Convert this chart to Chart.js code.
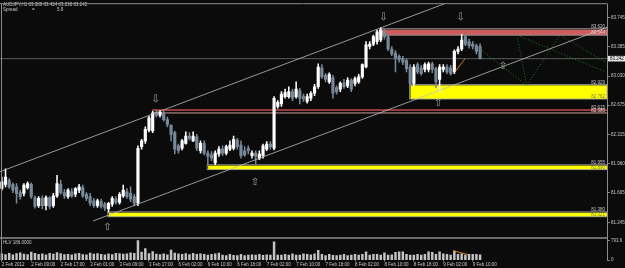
<!DOCTYPE html>
<html>
<head>
<meta charset="utf-8">
<script src="https://cdn.jsdelivr.net/npm/chart.js@4/dist/chart.umd.min.js"></script>
<style>
  html, body { margin: 0; padding: 0; background: #0b0b0b; }
  canvas { display: block; }
</style>
</head>
<body>
<canvas id="mtChart" width="625" height="268" style="width:625px;height:268px"></canvas>
<script>
// AUDJPY H1 candles (bar 0 = 2 Feb 2012)
const opens = [81.66,81.71,81.76,81.71,81.68,81.61,81.60,81.67,81.71,81.55,
  81.45,81.54,81.45,81.55,81.45,81.57,81.71,81.61,81.56,81.62,
  81.59,81.64,81.67,81.59,81.56,81.51,81.45,81.50,81.47,81.41,
  81.47,81.53,81.49,81.57,81.62,81.60,81.56,81.48,82.17,82.24,
  82.37,82.36,82.58,82.55,82.58,82.50,82.43,82.34,82.18,82.15,
  82.21,82.30,82.24,82.29,82.12,82.21,82.09,82.07,81.97,82.08,
  82.14,82.09,82.14,82.15,82.25,82.19,82.12,82.15,82.06,82.09,
  82.03,82.06,82.14,82.20,82.15,82.66,82.69,82.78,82.78,82.84,
  82.78,82.85,82.78,82.72,82.76,82.82,82.90,83.13,83.04,82.96,
  83.01,82.89,82.87,82.95,82.91,82.98,82.94,82.96,83.02,83.14,
  83.39,83.42,83.45,83.47,83.56,83.51,83.36,83.31,83.27,83.24,
  83.22,83.14,82.94,83.17,83.13,83.11,83.11,83.18,83.12,82.99,
  83.11,83.14,83.13,83.08,83.33,83.36,83.51,83.45,83.42,83.40,
  83.389];
const highs = [81.80,81.90,81.78,81.73,81.72,81.64,81.72,81.74,81.73,81.57,
  81.56,81.57,81.57,81.56,81.60,81.82,81.76,81.65,81.66,81.66,
  81.67,81.71,81.70,81.61,81.60,81.54,81.53,81.53,81.49,81.49,
  81.56,81.56,81.61,81.70,81.66,81.68,81.59,82.18,82.26,82.41,
  82.54,82.60,82.61,82.61,82.60,82.53,82.44,82.36,82.20,82.26,
  82.35,82.34,82.35,82.32,82.24,82.24,82.12,82.11,82.12,82.17,
  82.18,82.19,82.24,82.30,82.27,82.24,82.17,82.18,82.12,82.12,
  82.12,82.20,82.23,82.23,82.78,82.73,82.84,82.87,82.90,82.87,
  82.96,82.88,82.81,82.81,82.84,82.93,83.18,83.17,83.06,83.07,
  83.04,82.91,82.96,82.99,83.01,83.00,83.02,83.05,83.18,83.45,
  83.45,83.53,83.59,83.62,83.60,83.53,83.39,83.34,83.29,83.27,
  83.24,83.17,83.17,83.19,83.16,83.19,83.20,83.20,83.14,83.17,
  83.17,83.17,83.16,83.35,83.39,83.54,83.54,83.48,83.45,83.42,
  83.424];
const lows = [81.64,81.68,81.66,81.61,81.48,81.53,81.57,81.65,81.54,81.42,
  81.43,81.41,81.40,81.41,81.43,81.55,81.59,81.54,81.54,81.55,
  81.56,81.61,81.55,81.51,81.45,81.43,81.43,81.42,81.39,81.37,
  81.44,81.47,81.47,81.55,81.54,81.50,81.45,81.45,82.14,82.21,
  82.35,82.34,82.53,82.53,82.48,82.41,82.24,82.08,82.09,82.13,
  82.20,82.25,82.23,82.12,82.09,82.07,81.95,82.00,81.95,82.05,
  82.06,82.07,82.12,82.13,82.14,82.03,82.05,82.08,82.03,81.96,
  82.01,82.03,82.12,82.14,82.13,82.64,82.66,82.76,82.76,82.73,
  82.76,82.69,82.72,82.70,82.73,82.79,82.88,83.00,82.96,82.94,
  82.76,82.81,82.84,82.88,82.89,82.84,82.91,82.94,83.00,83.13,
  83.36,83.40,83.42,83.45,83.48,83.34,83.28,83.08,83.20,83.17,
  83.08,82.91,82.91,83.06,83.04,83.08,83.08,83.07,82.89,82.84,
  83.08,83.06,83.04,83.06,83.30,83.34,83.40,83.37,83.36,83.30,
  83.238];
const closes = [81.74,81.80,81.68,81.64,81.60,81.56,81.70,81.72,81.56,81.44,
  81.54,81.45,81.55,81.44,81.57,81.72,81.61,81.57,81.64,81.57,
  81.66,81.68,81.57,81.54,81.48,81.45,81.51,81.44,81.42,81.48,
  81.54,81.49,81.59,81.64,81.56,81.53,81.48,82.15,82.24,82.38,
  82.52,82.58,82.55,82.59,82.50,82.44,82.32,82.14,82.12,82.24,
  82.30,82.27,82.30,82.15,82.21,82.09,82.05,82.03,82.09,82.14,
  82.09,82.17,82.19,82.26,82.17,82.06,82.07,82.12,82.09,82.05,
  82.08,82.18,82.20,82.17,82.76,82.71,82.81,82.83,82.84,82.76,
  82.87,82.76,82.75,82.78,82.82,82.90,83.14,83.02,82.99,83.05,
  82.82,82.84,82.94,82.90,82.98,82.87,83.00,83.02,83.17,83.41,
  83.42,83.51,83.57,83.59,83.51,83.36,83.30,83.25,83.23,83.20,
  83.12,82.94,83.14,83.08,83.06,83.17,83.18,83.11,82.96,83.14,
  83.14,83.08,83.06,83.33,83.36,83.47,83.42,83.40,83.39,83.33,
  83.242];
const volumes = [249,223,275,215,258,292,241,223,317,275,
  232,249,215,266,241,300,258,223,232,215,
  249,266,223,206,283,241,258,232,215,249,
  223,275,258,241,249,292,266,793.6,317,463,
  258,343,241,223,249,215,403,283,249,232,
  258,223,275,229,255,229,201,229,255,282,
  201,175,229,188,175,229,175,201,215,201,
  229,188,215,201,738,201,201,229,201,255,
  201,201,255,229,215,255,390,229,175,229,
  188,175,201,229,175,201,229,201,229,336,
  201,229,229,201,296,201,215,309,336,336,
  229,201,201,229,201,229,335,309,229,336,
  255,229,201,363,229,255,201,229,229,229,
  215];

// time axis labels (every 8 bars)
const tickIdx = [0,8,16,24,32,40,48,56,64,72,80,88,96,104,112,120,128];
const tickText = ['2 Feb 2012','2 Feb 09:00','2 Feb 17:00','3 Feb 01:00','3 Feb 09:00','3 Feb 17:00',
  '6 Feb 02:00','6 Feb 10:00','6 Feb 18:00','7 Feb 02:00','7 Feb 10:00','7 Feb 18:00',
  '8 Feb 02:00','8 Feb 10:00','8 Feb 18:00','9 Feb 02:00','9 Feb 10:00'];
const priceTicks = [83.745,83.565,83.385,83.205,83.030,82.850,82.675,82.495,82.315,82.140,
  81.960,81.780,81.605,81.425,81.245,81.070];
const volTicks = [0, 793.6];

// supply / demand zones
const zoneStart = [102.7, 110.8, 40.8, 55.8, 28.8];
const zoneTop = [83.607, 82.927, 82.622, 81.949, 81.375];
const zoneBottom = [83.528, 82.750, 82.580, 81.889, 81.315];
const zoneFill = ['#cd5c5c', '#ffff00', null, '#ffff00', '#ffff00'];
const zoneHighText = ['83.620', '82.929', '82.615', '81.955', '81.380'];
const zoneLowText = ['83.544', '82.762', '82.585', '81.890', '81.321'];

// fractal arrows
const downIdx = [41.8, 103.7, 124.7];
const downPrice = [82.75, 83.74, 83.74];
const upIdx = [28.7, 68.8, 118.6, 136.2];
const upPrice = [81.19, 81.735, 82.70, 83.145];

// trend channel and projections [bar, price]
const upperChannel = [[-0.5, 81.864], [122, 83.94]];
const lowerChannel = [[24.8, 81.264], [164.5, 83.624]];
const greenPaths = [
  [[130.0, 83.36], [142.7, 82.915], [151.7, 83.53], [163.9, 83.205]],
  [[140.0, 83.53], [142.7, 82.915]],
  [[140.0, 83.53], [163.9, 83.084]]
];
const orangePrice = [[123.2, 83.084], [125.9, 83.241]];
const orangeVol = [[122.7, 375], [126.8, 214]];

const BG = '#0b0b0b';
const FRAME = '#8c8c8c';
const TEXT = '#c8c8c8';
const BULL = '#ffffff';
const BEAR = '#778899';
const SMALL = '4.5px "Liberation Sans", Arial, sans-serif';

function candleColor(ctx) {
    const i = ctx.dataIndex;
    return closes[i] >= opens[i] ? BULL : BEAR;
}

function lineSet(points, color, dash, axis) {
    return {
        type: 'line',
        data: points.map(p => ({ x: p[0], y: p[1] })),
        yAxisID: axis || 'y',
        borderColor: color,
        borderWidth: 0.8,
        borderDash: dash || [],
        pointRadius: 0,
        tension: 0,
        order: 0
    };
}

const mtPlugin = {
    id: 'mt4',
    beforeDraw(chart) {
        const c = chart.ctx;
        c.save();
        c.fillStyle = BG;
        c.fillRect(0, 0, chart.width, chart.height);
        c.restore();
    },
    beforeDatasetsDraw(chart) {
        const c = chart.ctx;
        const xs = chart.scales.x, ys = chart.scales.y;
        const right = chart.chartArea.right;
        c.save();
        // zones
        for (let k = 0; k < zoneStart.length; k++) {
            const x0 = xs.getPixelForValue(zoneStart[k]);
            const yt = ys.getPixelForValue(zoneTop[k]);
            const yb = ys.getPixelForValue(zoneBottom[k]);
            if (zoneFill[k]) {
                c.fillStyle = zoneFill[k];
                c.fillRect(x0 + 1, yt + 0.8, right - x0 - 1, yb - yt - 0.8);
                c.strokeStyle = '#a0a0a0';
                c.lineWidth = 0.8;
                c.strokeRect(x0, yt, right - x0, yb - yt);
            } else {
                // thin zone: red edge on top, pale edge below
                c.fillStyle = '#d05050';
                c.fillRect(x0, yt - 0.2, right - x0, 1.4);
                c.fillStyle = '#b89090';
                c.fillRect(x0, yb - 0.6, right - x0, 1.1);
            }
        }
        // bid line
        const yBid = ys.getPixelForValue(closes[closes.length - 1]);
        c.strokeStyle = '#707070';
        c.lineWidth = 0.8;
        c.beginPath();
        c.moveTo(chart.chartArea.left, yBid);
        c.lineTo(right, yBid);
        c.stroke();
        c.restore();
    },
    afterDatasetsDraw(chart) {
        const c = chart.ctx;
        const xs = chart.scales.x, ys = chart.scales.y, yv = chart.scales.yv;
        const area = chart.chartArea;
        c.save();
        // zone labels
        c.font = SMALL;
        c.textAlign = 'right';
        c.textBaseline = 'alphabetic';
        for (let k = 0; k < zoneStart.length; k++) {
            const yt = ys.getPixelForValue(zoneTop[k]);
            const yb = ys.getPixelForValue(zoneBottom[k]);
            c.fillStyle = TEXT;
            c.fillText(zoneHighText[k], area.right - 2, yt - 0.6);
            c.fillStyle = zoneFill[k] === '#ffff00' ? '#7a7a40' : '#e0c8c8';
            c.fillText(zoneLowText[k], area.right - 2, yb - 0.8);
        }
        // fractal arrows
        c.font = '10px "DejaVu Sans", sans-serif';
        c.textAlign = 'center';
        c.textBaseline = 'middle';
        c.fillStyle = '#a8a8a8';
        downIdx.forEach((v, k) => c.fillText('\u21e9', xs.getPixelForValue(v), ys.getPixelForValue(downPrice[k])));
        upIdx.forEach((v, k) => c.fillText('\u21e7', xs.getPixelForValue(v), ys.getPixelForValue(upPrice[k])));
        // header text
        c.font = SMALL;
        c.textAlign = 'left';
        c.textBaseline = 'middle';
        c.fillStyle = TEXT;
        const last = closes.length - 1;
        c.fillText('AUDJPY,H1 ' + opens[last].toFixed(3) + ' ' + highs[last].toFixed(3) + ' ' +
            lows[last].toFixed(3) + ' ' + closes[last].toFixed(3), 3, 4.6);
        c.fillText('Spread', 3, 9.6);
        c.fillText('=', 32, 9.6);
        c.fillText('5.9', 57, 9.6);
        c.fillText('HLV 186.0000', 3, yv.top + 5.5);
        // frames
        c.strokeStyle = FRAME;
        c.lineWidth = 1;
        c.beginPath();
        c.moveTo(area.left, ys.top);
        c.lineTo(area.right, ys.top);
        c.moveTo(area.left + 1.5, ys.top);
        c.lineTo(area.left + 1.5, yv.bottom);
        c.moveTo(area.right + 0.5, ys.top);
        c.lineTo(area.right + 0.5, yv.bottom);
        c.stroke();
        c.lineWidth = 1.6;
        c.beginPath();
        c.moveTo(area.left, ys.bottom + 0.3);
        c.lineTo(area.right, ys.bottom + 0.3);
        c.stroke();
        c.restore();
    },
    afterDraw(chart) {
        const c = chart.ctx;
        const ys = chart.scales.y;
        const last = closes[closes.length - 1];
        const y = ys.getPixelForValue(last);
        c.save();
        c.fillStyle = '#e6e6e6';
        c.fillRect(chart.chartArea.right + 1, y - 2.8, 18, 5.6);
        c.fillStyle = '#000000';
        c.font = SMALL;
        c.textAlign = 'left';
        c.textBaseline = 'middle';
        c.fillText(last.toFixed(3), chart.chartArea.right + 3, y + 0.2);
        c.restore();
    }
};

const ctx = document.getElementById('mtChart').getContext('2d');
const mtChart = new Chart(ctx, {
    type: 'bar',
    data: {
        datasets: [
            {
                label: 'wicks',
                data: highs.map((h, i) => ({ x: i, y: [lows[i], h] })),
                yAxisID: 'y',
                backgroundColor: candleColor,
                barThickness: 0.9,
                grouped: false,
                order: 3
            },
            {
                label: 'bodies',
                data: opens.map((o, i) => ({ x: i, y: [o, closes[i]] })),
                yAxisID: 'y',
                backgroundColor: candleColor,
                barThickness: 2.5,
                minBarLength: 0.8,
                grouped: false,
                order: 2
            },
            {
                label: 'volume',
                data: volumes.map((v, i) => ({ x: i, y: v })),
                yAxisID: 'yv',
                backgroundColor: '#c4c4c4',
                barThickness: 1.8,
                grouped: false,
                order: 2
            },
            lineSet(upperChannel, '#bdbdbd'),
            lineSet(lowerChannel, '#bdbdbd'),
            ...greenPaths.map(p => lineSet(p, '#1f9a1f', [1, 2])),
            lineSet(orangePrice, '#ff9a1a'),
            lineSet(orangeVol, '#ff9a1a', [], 'yv')
        ]
    },
    options: {
        responsive: false,
        maintainAspectRatio: false,
        animation: false,
        events: [],
        layout: { padding: { top: 1.5, left: 0, right: 0, bottom: 0 } },
        plugins: {
            legend: { display: false },
            tooltip: { enabled: false }
        },
        scales: {
            x: {
                type: 'linear',
                min: -0.5,
                max: 164.5,
                offset: false,
                afterBuildTicks: s => { s.ticks = tickIdx.map(v => ({ value: v })); },
                afterFit: s => { s.height = 8; },
                ticks: {
                    autoSkip: false,
                    maxRotation: 0,
                    align: 'start',
                    padding: 0.3,
                    color: TEXT,
                    font: { family: 'Liberation Sans', size: 4.5 },
                    callback: v => tickText[tickIdx.indexOf(v)]
                },
                grid: { drawOnChartArea: false, drawTicks: true, tickLength: 1.5, color: '#a0a0a0', lineWidth: 0.8, offset: false },
                border: { display: false }
            },
            y: {
                type: 'linear',
                position: 'right',
                stack: 'panes',
                stackWeight: 236,
                min: 81.060,
                max: 83.912,
                afterBuildTicks: s => { s.ticks = priceTicks.map(v => ({ value: v })); },
                afterFit: s => { s.width = 18; },
                ticks: {
                    padding: 1,
                    color: TEXT,
                    font: { family: 'Liberation Sans', size: 4.5 },
                    callback: v => v.toFixed(3)
                },
                grid: { drawOnChartArea: false, drawTicks: true, tickLength: 3, color: '#a0a0a0', lineWidth: 0.8 },
                border: { display: false }
            },
            yv: {
                type: 'linear',
                position: 'right',
                stack: 'panes',
                stackWeight: 22.5,
                min: 0,
                max: 906,
                afterBuildTicks: s => { s.ticks = volTicks.map(v => ({ value: v })); },
                afterFit: s => { s.width = 18; },
                ticks: {
                    padding: 1,
                    color: TEXT,
                    font: { family: 'Liberation Sans', size: 4.5 },
                    callback: v => (v === 0 ? '0' : v.toFixed(1))
                },
                grid: { drawOnChartArea: false, drawTicks: true, tickLength: 3, color: '#a0a0a0', lineWidth: 0.8 },
                border: { display: false }
            }
        }
    },
    plugins: [mtPlugin]
});
</script>
</body>
</html>
